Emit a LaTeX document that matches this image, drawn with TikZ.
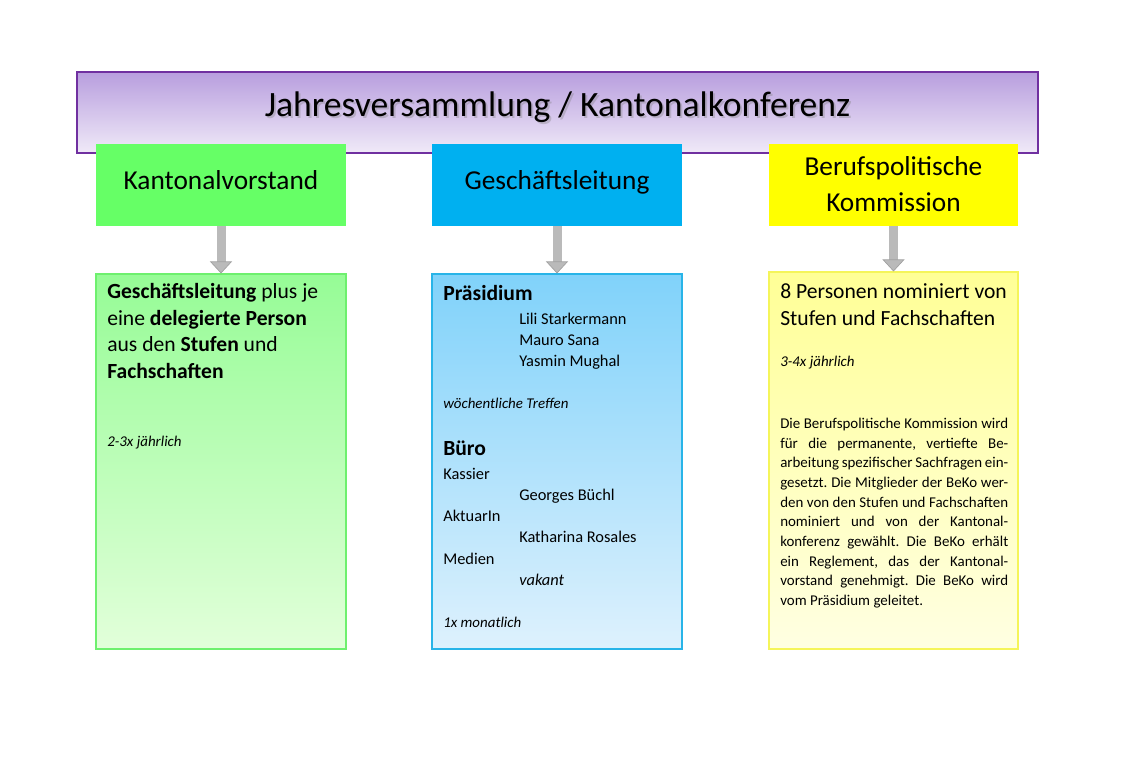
\documentclass[tikz,border=0pt]{standalone}
\usepackage{fontspec}
\setmainfont{Carlito}
\usetikzlibrary{arrows.meta,shadings}
\definecolor{banTop}{RGB}{184,158,222}
\definecolor{banBot}{RGB}{240,234,248}
\definecolor{banLine}{RGB}{112,48,160}
\definecolor{kvFill}{RGB}{102,255,102}
\definecolor{glFill}{RGB}{0,176,240}
\definecolor{bkFill}{RGB}{255,255,0}
\definecolor{kvTop}{RGB}{150,252,150}
\definecolor{kvBot}{RGB}{226,255,218}
\definecolor{kvLine}{RGB}{110,240,110}
\definecolor{glTop}{RGB}{128,210,250}
\definecolor{glBot}{RGB}{222,241,253}
\definecolor{glLine}{RGB}{40,180,232}
\definecolor{bkTop}{RGB}{255,255,150}
\definecolor{bkBot}{RGB}{255,255,226}
\definecolor{bkLine}{RGB}{245,245,90}
\definecolor{arrFill}{RGB}{186,186,186}
\definecolor{arrLine}{RGB}{160,160,160}
\newcommand\fsTitle{\fontsize{26.7}{31}\selectfont}
\newcommand\fsHead{\fontsize{20.5}{24}\selectfont}
\newcommand\fsBody{\fontsize{16.2}{19}\selectfont}
\newcommand\fsMid{\fontsize{12.3}{14}\selectfont}
\newcommand\fsSmall{\fontsize{11.2}{13}\selectfont}
\frenchspacing
\begin{document}
\begin{tikzpicture}[x=0.75pt,y=-0.75pt,
  banner/.style={draw=banLine, line width=0.9pt, top color=banTop, bottom color=banBot,
    minimum width=720.75pt, minimum height=60.75pt, inner sep=0pt},
  headbox/.style={minimum width=187.5pt, minimum height=61.5pt, inner sep=0pt},
  bodybox/.style={line width=0.8pt, minimum width=187.5pt, minimum height=281.25pt, inner sep=0pt},
  txt/.style={anchor=base west, inner sep=0pt, text=black},
  ctxt/.style={anchor=base, inner sep=0pt, text=black},
  grayarrow/.style={draw=arrFill, line width=6.75pt,
    -{Triangle[width=16.5pt, length=9pt, fill=arrFill, color=arrLine, line width=0.5pt]}}
]
\useasboundingbox (0,0) rectangle (1140,760);
\fill[white] (0,0) rectangle (1140,760);

% banner
\node[banner] (ban) at (557.5,112.5) {};
\node[ctxt, text=gray, opacity=0.35, font=\fsTitle] (titleshadow) at (559.5,118) {Jahresversammlung / Kantonalkonferenz};
\node[ctxt, font=\fsTitle] (title) at (557.5,116) {Jahresversammlung / Kantonalkonferenz};

% head boxes
\node[headbox, fill=kvFill] (kv) at (221,185) {};
\node[headbox, fill=glFill] (gl) at (557,185) {};
\node[headbox, fill=bkFill, minimum width=186.75pt] (bk) at (893.5,185) {};
\node[ctxt, font=\fsHead] (kvt) at (221,189) {Kantonalvorstand};
\node[ctxt, font=\fsHead] (glt) at (557,189) {Geschäftsleitung};
\node[ctxt, font=\fsHead] (bkt1) at (893.5,175) {Berufspolitische};
\node[ctxt, font=\fsHead] (bkt2) at (893.5,211.5) {Kommission};

% body boxes
\node[bodybox, draw=kvLine, top color=kvTop, bottom color=kvBot] (kvb) at (221,461.5) {};
\node[bodybox, draw=glLine, top color=glTop, bottom color=glBot] (glb) at (557,461.5) {};
\node[bodybox, draw=bkLine, top color=bkTop, bottom color=bkBot, minimum width=186.75pt, minimum height=282.75pt] (bkb) at (893.5,460.5) {};

% arrows
\draw[grayarrow] (kv.south) -- (kvb.north);
\draw[grayarrow] (gl.south) -- (glb.north);
\draw[grayarrow] (bk.south) -- (bkb.north);

% Kantonalvorstand body
\node[txt, font=\fsBody] (k1) at (107,298.3) {\textbf{Geschäftsleitung} plus je};
\node[txt, font=\fsBody] (k2) at (107,325) {eine \textbf{delegierte Person}};
\node[txt, font=\fsBody] (k3) at (107,351.7) {aus den \textbf{Stufen} und};
\node[txt, font=\fsBody] (k4) at (107,378) {\textbf{Fachschaften}};
\node[txt, font=\fsSmall\itshape] (k5) at (107,446) {2-3x jährlich};

% Geschaeftsleitung body
\node[txt, font=\fsBody\bfseries] (g1) at (443,300) {Präsidium};
\node[txt, font=\fsMid] (g2) at (519,324.3) {Lili Starkermann};
\node[txt, font=\fsMid] (g3) at (519,345.7) {Mauro Sana};
\node[txt, font=\fsMid] (g4) at (519,366.7) {Yasmin Mughal};
\node[txt, font=\fsSmall\itshape] (g5) at (443,408.3) {wöchentliche Treffen};
\node[txt, font=\fsBody\bfseries] (g6) at (443,455.7) {Büro};
\node[txt, font=\fsMid] (g7) at (443,479) {Kassier};
\node[txt, font=\fsMid] (g8) at (519,500.7) {Georges Büchl};
\node[txt, font=\fsMid] (g9) at (443,521.7) {AktuarIn};
\node[txt, font=\fsMid] (g10) at (519,542.7) {Katharina Rosales};
\node[txt, font=\fsMid] (g11) at (443,564.3) {Medien};
\node[txt, font=\fsMid\itshape] (g12) at (519,585.7) {vakant};
\node[txt, font=\fsSmall\itshape] (g13) at (443,627.3) {1x monatlich};

% Berufspolitische Kommission body
\node[txt, font=\fsBody] (b1) at (780,298) {8 Personen nominiert von};
\node[txt, font=\fsBody] (b2) at (780,325) {Stufen und Fachschaften};
\node[txt, font=\fsSmall\itshape] (b3) at (780,366) {3-4x jährlich};
\node[txt, font=\fsSmall] (p1) at (780,428.3) {\makebox[171pt][s]{Die Berufspolitische Kommission wird}};
\node[txt, font=\fsSmall] (p2) at (780,448.0) {\makebox[171pt][s]{für die permanente, vertiefte Be-}};
\node[txt, font=\fsSmall] (p3) at (780,467.7) {\makebox[171pt][s]{arbeitung spezifischer Sachfragen ein-}};
\node[txt, font=\fsSmall] (p4) at (780,487.4) {\makebox[171pt][s]{gesetzt. Die Mitglieder der BeKo wer-}};
\node[txt, font=\fsSmall] (p5) at (780,507.1) {\makebox[171pt][s]{den von den Stufen und Fachschaften}};
\node[txt, font=\fsSmall] (p6) at (780,526.8) {\makebox[171pt][s]{nominiert und von der Kantonal-}};
\node[txt, font=\fsSmall] (p7) at (780,546.5) {\makebox[171pt][s]{konferenz gewählt. Die BeKo erhält}};
\node[txt, font=\fsSmall] (p8) at (780,566.2) {\makebox[171pt][s]{ein Reglement, das der Kantonal-}};
\node[txt, font=\fsSmall] (p9) at (780,585.9) {\makebox[171pt][s]{vorstand genehmigt. Die BeKo wird}};
\node[txt, font=\fsSmall] (p10) at (780,605.6) {vom Präsidium geleitet.};
\end{tikzpicture}
\end{document}
